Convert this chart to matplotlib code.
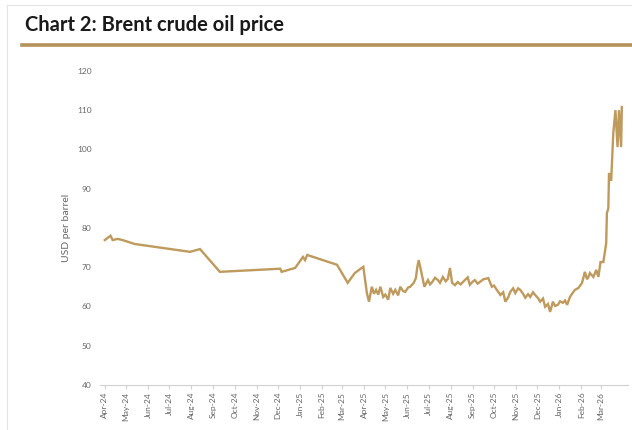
import matplotlib
matplotlib.use('Agg')
import matplotlib.pyplot as plt
import matplotlib.dates as mdates
import numpy as np
import pandas as pd

# Brent crude, USD per barrel
dates = ['2024-04-01', '2024-04-09', '2024-04-12', '2024-04-19', '2024-04-26',
         '2024-05-13', '2024-07-30', '2024-08-13', '2024-09-10', '2024-12-04',
         '2024-12-06', '2024-12-25', '2025-01-05', '2025-01-08', '2025-01-11',
         '2025-02-22', '2025-03-09', '2025-03-19', '2025-03-31', '2025-04-05',
         '2025-04-08', '2025-04-12', '2025-04-15', '2025-04-18', '2025-04-21',
         '2025-04-24', '2025-04-28', '2025-05-01', '2025-05-05', '2025-05-08',
         '2025-05-12', '2025-05-15', '2025-05-19', '2025-05-22', '2025-05-26',
         '2025-05-29', '2025-06-02', '2025-06-05', '2025-06-10', '2025-06-13',
         '2025-06-15', '2025-06-17', '2025-06-20', '2025-06-25', '2025-06-30',
         '2025-07-03', '2025-07-06', '2025-07-10', '2025-07-14', '2025-07-17',
         '2025-07-21', '2025-07-25', '2025-07-28', '2025-07-31', '2025-08-03',
         '2025-08-07', '2025-08-11', '2025-08-15', '2025-08-21', '2025-08-25',
         '2025-08-28', '2025-09-01', '2025-09-04', '2025-09-08', '2025-09-11',
         '2025-09-16', '2025-09-23', '2025-09-28', '2025-10-01', '2025-10-05',
         '2025-10-10', '2025-10-14', '2025-10-17', '2025-10-21', '2025-10-24',
         '2025-10-28', '2025-10-31', '2025-11-04', '2025-11-07', '2025-11-11',
         '2025-11-14', '2025-11-18', '2025-11-21', '2025-11-25', '2025-11-28',
         '2025-12-02', '2025-12-05', '2025-12-09', '2025-12-12', '2025-12-16',
         '2025-12-19', '2025-12-23', '2025-12-26', '2025-12-30', '2026-01-02',
         '2026-01-06', '2026-01-09', '2026-01-12', '2026-01-16', '2026-01-20',
         '2026-01-23', '2026-01-28', '2026-02-02', '2026-02-06', '2026-02-09',
         '2026-02-11', '2026-02-13', '2026-02-18', '2026-02-22', '2026-02-25',
         '2026-02-28', '2026-03-04', '2026-03-08', '2026-03-09', '2026-03-11',
         '2026-03-12', '2026-03-15', '2026-03-18', '2026-03-21', '2026-03-24',
         '2026-03-26', '2026-03-29', '2026-03-30']
price = [76.9, 78.0, 76.9, 77.2, 76.9,
         75.9, 73.9, 74.6, 68.8, 69.6,
         68.8, 69.8, 72.6, 71.8, 73.1,
         70.6, 66.0, 68.5, 70.1, 63.4,
         61.2, 65.0, 63.2, 64.2, 63.0,
         65.0, 62.4, 63.0, 61.7, 64.7,
         63.2, 64.2, 62.8, 65.0, 63.9,
         63.7, 64.8, 65.0, 66.0, 67.2,
         70.0, 71.8, 69.3, 65.0, 66.7,
         65.6, 66.2, 67.3, 66.7, 66.0,
         67.5, 66.4, 67.0, 69.8, 66.0,
         65.4, 66.2, 65.6, 66.7, 67.4,
         65.5, 66.3, 66.7, 65.8, 66.2,
         66.9, 67.2, 65.0, 65.3, 64.2,
         62.9, 63.6, 61.2, 62.3, 63.7,
         64.6, 63.4, 64.6, 64.2, 63.2,
         62.2, 63.1, 62.4, 63.6, 62.9,
         62.1, 61.2, 62.0, 59.9, 60.6,
         58.6, 61.2, 60.1, 60.4, 61.3,
         60.9, 61.5, 60.4, 62.4, 63.5,
         64.2, 64.7, 66.0, 68.8, 66.9,
         67.5, 68.5, 67.5, 69.3, 67.5,
         71.3, 71.3, 76.1, 83.8, 85.0,
         94.0, 92.0, 104.2, 110.0, 100.6,
         110.0, 100.6, 110.8]

yticks = [40, 50, 60, 70, 80, 90, 100, 110, 120]
xticks = pd.date_range('2024-04-01', '2026-03-01', freq='MS')

gold = '#BE9A5C'

t = pd.to_datetime(dates)

fig = plt.figure(figsize=(6.32, 4.30), dpi=100)

# title and gold rule
fig.text(0.040, 0.942, 'Chart 2: Brent crude oil price', fontsize=14.5,
         fontweight='bold', color='#1a1a1a', family='Lato', va='center')
fig.add_artist(plt.Line2D([0.035, 1.0], [0.895, 0.895], color='#B5925A',
                          lw=2.6, transform=fig.transFigure))
# faint frame of the scanned box
fig.add_artist(plt.Line2D([0.011, 0.011], [0.0, 0.988], color='#e4e4e4',
                          lw=0.8, transform=fig.transFigure))
fig.add_artist(plt.Line2D([0.011, 1.0], [0.988, 0.988], color='#e4e4e4',
                          lw=0.8, transform=fig.transFigure))

ax = fig.add_axes([0.158, 0.105, 0.836, 0.730])
ax.plot(t, price, color=gold, lw=1.7, solid_joinstyle='miter')

ax.set_ylim(40, 120)
ax.set_yticks(yticks)
ax.set_xlim(pd.Timestamp('2024-03-25'), pd.Timestamp('2026-04-08'))
ax.set_xticks(xticks)
ax.xaxis.set_major_formatter(mdates.DateFormatter('%b-%y'))

for s in ['top', 'right', 'left']:
    ax.spines[s].set_visible(False)
ax.spines['bottom'].set_color('#d0d0d0')
ax.spines['bottom'].set_linewidth(0.8)

ax.tick_params(axis='y', length=0, labelsize=6, labelcolor='#666666', pad=6)
ax.tick_params(axis='x', length=3, color='#d0d0d0', labelsize=6,
               labelcolor='#666666', labelrotation=90, pad=2)
for lab in ax.get_xticklabels() + ax.get_yticklabels():
    lab.set_family('Lato')

ax.set_ylabel('USD per barrel', fontsize=7.5, color='#666666', family='Lato',
              labelpad=4)

fig.savefig('out.png', dpi=100)
